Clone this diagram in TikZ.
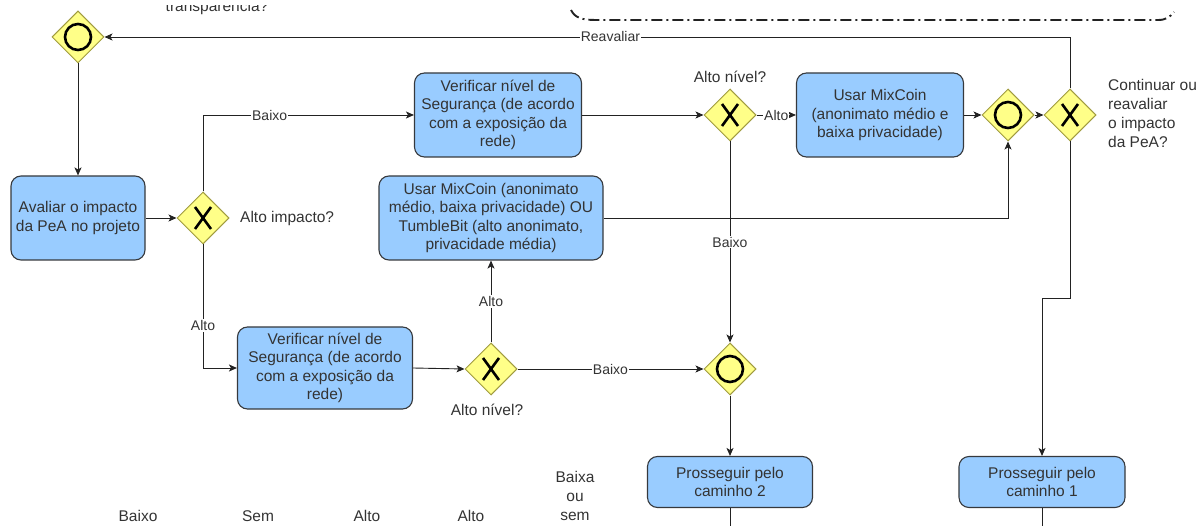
\documentclass[tikz,border=0pt]{standalone}
\usepackage{fontspec}
\setmainfont{Liberation Sans}
\usetikzlibrary{arrows.meta,shapes.geometric}
\definecolor{boxfill}{HTML}{99CCFF}
\definecolor{boxline}{HTML}{36393D}
\definecolor{gwfill}{HTML}{FFFF88}
\definecolor{gwline}{HTML}{A09B40}
\definecolor{txt}{HTML}{333333}
\definecolor{lin}{HTML}{222222}
\begin{document}
\begin{tikzpicture}[x=1pt,y=-1pt,
  box/.style={draw=boxline, fill=boxfill, rounded corners=10pt, line width=1.1pt,
    align=center, text=txt, inner sep=0pt, font=\fontsize{15.5}{18.5}\selectfont},
  gw/.style={diamond, draw=gwline, fill=gwfill, minimum width=52pt, minimum height=52pt,
    inner sep=0pt, line width=1pt},
  mk/.style={line width=2.6pt, black},
  arr/.style={draw=lin, line width=0.9pt, -{Stealth[length=8pt,width=7pt,inset=2pt]}},
  ln/.style={draw=lin, line width=0.9pt},
  elab/.style={fill=white, inner sep=1pt, text=txt, font=\fontsize{14}{16}\selectfont},
  lab/.style={text=txt, inner sep=0pt, font=\fontsize{15.5}{19}\selectfont}
]
\useasboundingbox (0,0) rectangle (1199,526);

% top fragments
\begin{scope}
  \clip (0,6) rectangle (1199,526);
  \node[lab, anchor=base] (tr) at (217,12) {transparência?};
\end{scope}
\draw[line width=1.9pt, lin, dash pattern=on 11pt off 4pt on 2pt off 4pt]
  (571,10) .. controls (575,18) and (582,20) .. (596,20) -- (1158,20)
  .. controls (1166,20) and (1170,17) .. (1174,12);

% gateways
\node[gw] (g0) at (78,37) {};
\node[gw] (g1) at (203,218) {};
\node[gw] (g2) at (730,115) {};
\node[gw] (g3) at (1008,115) {};
\node[gw] (g4) at (1070,115) {};
\node[gw] (g5) at (730,369) {};
\node[gw] (g6) at (491,369) {};
\foreach \g in {g0,g3,g5} \draw[mk] (\g.center) circle[radius=13];
\foreach \g in {g1,g2,g4,g6} {
  \draw[mk] ([shift={(-8,-11)}]\g.center) -- ([shift={(8,11)}]\g.center);
  \draw[mk] ([shift={(8,-11)}]\g.center) -- ([shift={(-8,11)}]\g.center);
}

% boxes
\node[box, minimum width=134pt, minimum height=84pt] (av) at (78,218) {Avaliar o impacto\\da PeA no projeto};
\node[box, minimum width=167pt, minimum height=84pt] (ver1) at (498,115) {Verificar nível de\\Segurança (de acordo\\com a exposição da\\rede)};
\node[box, minimum width=167pt, minimum height=84pt] (mix) at (880,115) {Usar MixCoin\\(anonimato médio e\\baixa privacidade)};
\node[box, minimum width=224pt, minimum height=84pt] (mid) at (491,218) {Usar MixCoin (anonimato\\médio, baixa privacidade) OU\\TumbleBit (alto anonimato,\\privacidade média)};
\node[box, minimum width=175pt, minimum height=82pt] (ver2) at (325,368) {Verificar nível de\\Segurança (de acordo\\com a exposição da\\rede)};
\node[box, minimum width=165pt, minimum height=51pt] (cam2) at (730,482) {Prosseguir pelo\\caminho 2};
\node[box, minimum width=166pt, minimum height=51pt] (cam1) at (1042,482) {Prosseguir pelo\\caminho 1};

% gateway labels
\node[lab, anchor=west] (l1) at (240,218) {Alto impacto?};
\node[lab] (l2) at (730,77) {Alto nível?};
\node[lab] (l6) at (487,410) {Alto nível?};
\node[lab, anchor=north west, align=left] (l4) at (1108,79) {Continuar ou\\reavaliar\\o impacto\\da PeA?};

% bottom texts
\node[lab] (b1) at (138,516) {Baixo};
\node[lab] (b2) at (258,516) {Sem};
\node[lab] (b3) at (367,516) {Alto};
\node[lab] (b4) at (471,516) {Alto};
\node[lab, align=center] (b5) at (575,496) {Baixa\\ou\\sem};

% free-end coordinates
\coordinate (c1) at (1042,298);
\coordinate (e1) at (1042,530);
\coordinate (e2) at (730,530);

% connectors
\draw[arr] (g4.north) |- node[elab, pos=0.738] {Reavaliar} (g0.east);
\draw[arr] (g0.south) -- (av.north);
\draw[arr] (av.east) -- (g1.west);
\draw[arr] (g1.north) |- node[elab, pos=0.658] {Baixo} (ver1.west);
\draw[arr] (ver1.east) -- (g2.west);
\draw[arr] (g2.east) -- node[elab] {Alto} (mix.west);
\draw[arr] (mix.east) -- (g3.west);
\draw[arr] (g3.east) -- (g4.west);
\draw[arr] (g4.south) |- (c1) -- (cam1.north);
\draw[ln] (cam1.south) -- (e1);
\draw[arr] (g2.south) -- node[elab] {Baixo} (g5.north);
\draw[arr] (g5.south) -- (cam2.north);
\draw[ln] (cam2.south) -- (e2);
\draw[arr] (mid.east) -| (g3.south);
\draw[arr] (g1.south) |- node[elab, pos=0.328] {Alto} (ver2.west);
\draw[arr] (ver2.east) -- (g6.west);
\draw[arr] (g6.north) -- node[elab] {Alto} (mid.south);
\draw[arr] (g6.east) -- node[elab] {Baixo} (g5.west);
\end{tikzpicture}
\end{document}
